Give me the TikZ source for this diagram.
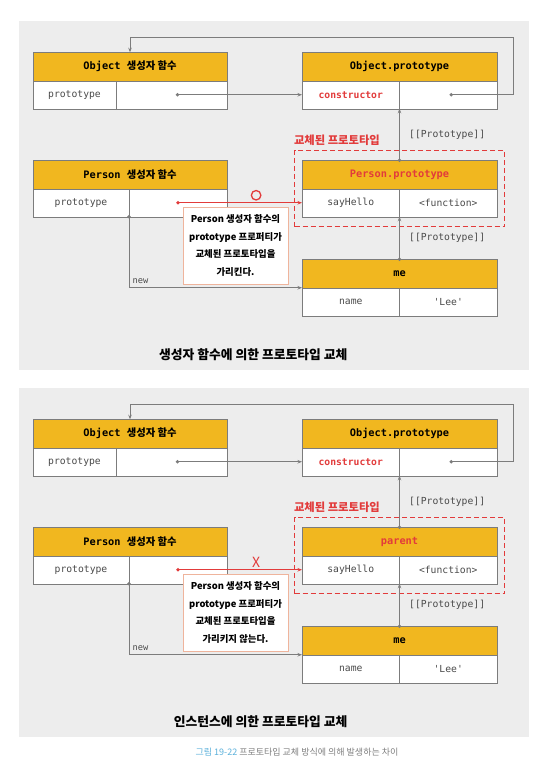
\documentclass[tikz,border=0pt]{standalone}
\usepackage{fontspec}
\setmainfont{Noto Sans CJK KR}
\setmonofont{DejaVu Sans Mono}
\newfontfamily\kr{Noto Sans CJK KR}
\usetikzlibrary{positioning,arrows.meta,fit}
\definecolor{gold}{HTML}{F1B71F}
\definecolor{panel}{HTML}{EDEDED}
\definecolor{wire}{HTML}{7C7C7C}
\definecolor{alert}{HTML}{E23B3B}
\definecolor{note}{HTML}{EFB49C}
\definecolor{ink}{HTML}{4A4A4A}
\definecolor{capblue}{HTML}{5BB0DA}
\begin{document}
\begin{tikzpicture}[
        x=1pt, y=-1pt,
        hdr/.style={draw=wire, fill=gold, minimum width=194pt, minimum height=28.5pt, inner sep=0pt, outer sep=0pt,
          font=\ttfamily\bfseries\fontsize{10.3}{11}\selectfont},
        cell/.style={draw=wire, fill=white, minimum height=28pt, inner sep=0pt, outer sep=0pt, text=ink,
          font=\ttfamily\fontsize{9.7}{10}\selectfont},
        link/.style={draw=wire, line width=0.7pt, -{Stealth[length=4.5pt,width=3.5pt]}},
        hot/.style={link, draw=alert, line width=0.8pt},
        dot/.style={fill=wire},
        proto/.style={anchor=west, xshift=6pt, text=ink, font=\ttfamily\fontsize{9.7}{10}\selectfont},
        swapped/.style={draw=alert, dash pattern=on 5pt off 3pt, line width=1.3pt, inner xsep=7.5pt, inner ysep=10pt},
        memo/.style={draw=note, fill=white, line width=0.8pt, minimum width=105pt, minimum height=77pt,
          align=center, font=\bfseries\fontsize{9.4}{17.5}\selectfont},
        okmark/.style={circle, draw=alert, line width=1.3pt, minimum size=9.5pt, inner sep=0pt},
        nomark/.style={inner sep=0pt, label={[text=alert, font=\fontsize{14}{14}\selectfont]center:X}},
      ]

      \useasboundingbox (0,0) rectangle (551,774);

      \foreach \p/\dy/\hd/\mk/\tail/\ttl in {
          1/0/Person.prototype/okmark/가리킨다./생성자 함수에 의한,
          2/367/parent/nomark/가리키지 않는다./인스턴스에 의한}{
      \begin{scope}[shift={(0,\dy)}]
        \fill[panel] (19,21) rectangle (529,370);

        \node[hdr] (oc\p-h) at (130,66.5) {Object {\kr 생성자 함수}};
        \node[cell, minimum width=83pt, below right=0pt of oc\p-h.south west] (oc\p-k) {prototype};
        \node[cell, minimum width=111pt, right=0pt of oc\p-k] (oc\p-v) {};

        \node[hdr, minimum width=195pt] (op\p-h) at (399.5,66.5) {Object.prototype};
        \node[cell, minimum width=97.5pt, below right=0pt of op\p-h.south west] (op\p-k) {\textcolor{alert}{\bfseries constructor}};
        \node[cell, minimum width=97.5pt, right=0pt of op\p-k] (op\p-v) {};

        \node[hdr] (pc\p-h) at (130,174.5) {Person {\kr 생성자 함수}};
        \node[cell, minimum width=96pt, below right=0pt of pc\p-h.south west] (pc\p-k) {prototype};
        \node[cell, minimum width=98pt, right=0pt of pc\p-k] (pc\p-v) {};

        \node[hdr, minimum width=195pt] (pp\p-h) at (399.5,174.5) {\textcolor{alert}{\hd}};
        \node[cell, minimum width=97.5pt, below right=0pt of pp\p-h.south west] (pp\p-k) {sayHello};
        \node[cell, minimum width=97.5pt, right=0pt of pp\p-k] (pp\p-v) {<function>};

        \node[hdr, minimum width=195pt] (me\p-h) at (399.5,273.5) {me};
        \node[cell, minimum width=97.5pt, below right=0pt of me\p-h.south west] (me\p-k) {name};
        \node[cell, minimum width=97.5pt, right=0pt of me\p-k] (me\p-v) {'Lee'};

        \node[swapped, fit=(pp\p-h)(pp\p-v)] (swap\p) {};
        \node[anchor=south west, inner sep=0pt, text=alert, font=\bfseries\fontsize{11.3}{12}\selectfont]
          (swaplabel\p) at ([yshift=4pt]swap\p.north west) {교체된 프로토타입};

        \coordinate (oc\p-d) at ([xshift=6pt]oc\p-v.center);
        \coordinate (op\p-d) at ([xshift=3pt]op\p-v.center);
        \coordinate (loop\p) at (513,37);

        \draw[link] (op\p-d) -| (loop\p) -| (oc\p-h.north);
        \draw[link] (oc\p-d) -- (op\p-k.west);
        \draw[link] (pp\p-h.north) -- node[proto] {[[Prototype]]} (op\p-k.south east);
        \draw[link] (me\p-h.north) -- node[proto] {[[Prototype]]} (pp\p-k.south east);
        \draw[link] (pc\p-k.south east) |- node[pos=0.5, above right, text=ink, font=\ttfamily\fontsize{8.7}{10}\selectfont] {new} (me\p-h.south west);
        \draw[hot] (pc\p-v.center) -- node[\mk, pos=0.63, yshift=7.5pt] (mark\p) {} (pp\p-k.west);

        \fill[dot] (op\p-d) circle (1.8pt);
        \fill[dot] (oc\p-d) circle (1.8pt);
        \fill[dot] (pp\p-h.north) circle (1.8pt);
        \fill[dot] (me\p-h.north) circle (1.8pt);
        \fill[dot] (pc\p-k.south east) circle (1.8pt);
        \fill[alert] (pc\p-v.center) circle (1.8pt);

        \node[memo] (memo\p) at (235.5,245.5) {Person 생성자 함수의\\prototype 프로퍼티가\\교체된 프로토타입을\\\tail};

        \node[anchor=east, font=\bfseries\fontsize{12.8}{13}\selectfont] (title\p) at (351,355) {\ttl{} 프로토타입 교체};
      \end{scope}
      }

      \node[text=gray, font=\fontsize{9}{10}\selectfont] (caption) at (297,752)
        {\textcolor{capblue}{그림 19-22} 프로토타입 교체 방식에 의해 발생하는 차이};

    \end{tikzpicture}
\end{document}
